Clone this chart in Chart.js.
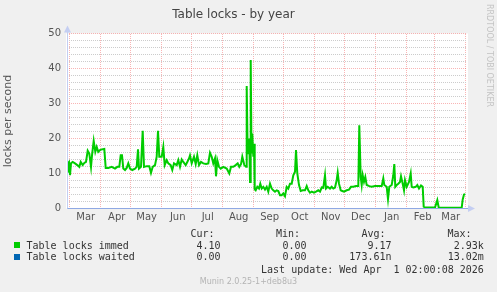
<!DOCTYPE html>
<html>
<head>
<meta charset="utf-8">
<script src="https://cdn.jsdelivr.net/npm/chart.js@4"></script>
<style>
  html, body { margin: 0; padding: 0; background: #f0f0f0; }
  #wrap { position: relative; width: 497px; height: 292px; overflow: hidden; }
  canvas { position: absolute; left: 0; top: 0; }
  .m { position: absolute; font-family: 'DejaVu Sans Mono', monospace; font-size: 10px; line-height: 10px; color: #333; white-space: pre; }
  .sq { position: absolute; width: 6px; height: 6px; }
  .foot { position: absolute; font-family: 'DejaVu Sans', sans-serif; font-size: 8px; line-height: 8px; color: #b4b4b4; white-space: pre; }
  .side { position: absolute; font-family: 'DejaVu Sans', sans-serif; font-size: 8px; line-height: 8px; color: #c4c4c4; white-space: pre; transform-origin: 0 0; transform: rotate(90deg); }
</style>
</head>
<body>
<div id="wrap">
  <canvas id="c" width="497" height="292"></canvas>
</div>
<script>
// ---- data (day offsets from 27 Feb 2025, one pixel per day) ----
const monthLabels = ['Mar','Apr','May','Jun','Jul','Aug','Sep','Oct','Nov','Dec','Jan','Feb','Mar'];
const monthStartDays = [2,33,63,94,124,155,186,216,247,277,308,339,367,398];
const yTickValues = [0,10,20,30,40,50];

const dayOffsets = [0,0.7,2,3,4,5.7,8,10.3,12.3,13.7,15.7,17.3,19,20.7,22.3,24,25,26.7,28.3,29.7,31.3,33,34.7,37.3,38.7,41.3,44.7,48,50.3,52.3,53.7,55,56.3,58,59.7,61.3,63,65.3,68,69.7,71,72,74,75.7,77,79.7,82.3,84,85.7,88,89.7,91,92.3,94.7,96.3,97.7,99.7,101.3,103.7,105.3,107,109.7,111.3,113,114.7,116.3,118.7,120.3,122,123,124.7,127,128.7,130.3,132,134,136.3,139,141.3,143,144.7,146.3,148,149,150.3,152,153.7,156.3,159.7,162.3,164,166.3,168.7,170.7,172.3,174,175.3,177.3,179,179.7,180.5,181.3,182.3,183,183.7,184.5,185.3,186.3,187,187.7,188.7,190.3,192,193.3,194.7,196.3,198,199.7,201.3,203,204.7,206.3,208,209.7,211.3,213,214.7,216.3,218,219.7,221.3,223,224.7,226.3,228,229,230.3,232,233.7,235.7,238,239.7,241.3,243,244.7,247,249,251.3,253,254.7,256.3,258,259,260.7,263,264.7,266.3,268,269.7,270.7,272,273.7,275.3,277,279.7,282,284,286.3,289,291.3,292.3,293.7,294.7,295.7,297,298.3,299.7,302.3,304.7,308,311.3,314.7,316.3,317.3,319.7,321,322.3,324.7,326.3,327.3,328.3,329.7,331.3,333,334,335.3,337,338,339.7,342,343.7,344.7,346.3,348.7,350.3,352,354,355.7,356.7,358,363,368,370.3,371.7,376.3,383,389.7,394.7,395.7,397,398.3];
const immedValues = [10.5,12.9,13.3,9.5,12.9,13.3,12.9,12.4,11.9,13.3,12.4,13.0,13.3,16.5,15.7,11.9,15.2,19.3,16.2,17.6,16.2,16.7,16.9,17.0,11.6,11.6,11.9,11.4,11.9,11.9,15.2,15.2,11.4,11.0,11.6,12.9,11.4,11.0,11.4,11.9,16.9,11.4,11.9,22.2,11.9,12.1,12.1,10.2,11.9,12.4,14.8,22.2,14.8,14.8,17.6,12.4,13.8,12.9,12.4,11.0,12.9,12.4,13.8,11.9,14.0,13.3,12.4,13.3,14.3,15.2,12.9,14.8,12.7,15.2,12.4,13.3,12.9,12.7,12.9,15.9,14.8,12.9,14.3,9.2,13.8,11.9,11.4,11.9,11.4,10.0,11.9,11.9,12.4,12.9,11.9,12.7,14.8,12.4,11.9,35.0,19.5,15.5,20.0,7.6,42.4,15.7,21.4,14.8,18.5,5.5,5.2,6.2,5.7,7.1,5.7,6.2,5.4,6.2,4.8,7.1,5.7,5.2,4.8,5.2,5.0,3.8,3.8,4.3,3.5,6.2,5.7,7.1,7.1,9.5,10.5,16.7,10.0,6.7,5.0,5.2,5.2,6.4,5.2,4.5,4.8,4.5,4.8,5.2,4.8,6.0,5.9,9.5,5.7,6.2,5.7,6.2,5.7,6.0,8.1,10.2,7.1,5.2,5.0,4.8,5.2,5.4,6.2,6.2,6.4,6.4,23.8,9.0,6.7,9.5,7.6,9.0,6.7,6.4,6.2,6.4,6.4,6.4,8.6,6.7,6.2,2.7,6.2,6.7,9.5,12.7,6.2,6.7,7.1,7.6,9.2,7.6,5.2,8.1,6.2,7.6,10.0,6.2,6.0,6.2,6.7,5.7,6.6,6.2,0.5,0.3,0.3,0.3,2.4,0.3,0.2,0.2,0.2,0.2,2.6,4.0,4.1];

const waitedDays = [0, 399];
const waitedValues = [0, 0];

const legendRows = [
  { name: 'Table locks immed',  color: '#00cc00', cur: '4.10', min: '0.00', avg: '9.17',    max: '2.93k' },
  { name: 'Table locks waited', color: '#0066b3', cur: '0.00', min: '0.00', avg: '173.61n', max: '13.02m' }
];
const legendHeaders = ['Cur:', 'Min:', 'Avg:', 'Max:'];
const lastUpdate = 'Last update: Wed Apr  1 02:00:08 2026';
const footerText = 'Munin 2.0.25-1+deb8u3';
const sideText = 'RRDTOOL / TOBI OETIKER';

// ---- chart ----
const toPts = (xs, ys) => xs.map((x, i) => ({ x: x, y: ys[i] }));
const labelDays = monthLabels.map((_, i) => monthStartDays[i] + 16.7);
const minorY = [];
for (let v = 2; v < 50; v += 2) if (v % 10 !== 0) minorY.push(v);

const bgPlugin = {
  id: 'bg',
  beforeDraw(chart) {
    const { ctx, chartArea: a } = chart;
    ctx.save();
    ctx.fillStyle = '#f0f0f0';
    ctx.fillRect(0, 0, chart.width, chart.height);
    ctx.fillStyle = '#ffffff';
    ctx.fillRect(a.left - 1, a.top, a.right - a.left + 2, a.bottom - a.top);
    ctx.restore();
  },
  afterDraw(chart) {
    const { ctx, chartArea: a } = chart;
    ctx.save();
    ctx.strokeStyle = '#c4cef2';
    ctx.lineWidth = 1;
    ctx.beginPath();
    ctx.moveTo(a.left + 0.5, a.bottom);
    ctx.lineTo(a.left + 0.5, a.top - 4);
    ctx.stroke();
    ctx.fillStyle = '#c4cef2';
    ctx.beginPath();
    ctx.moveTo(a.left - 3, a.top - 1);
    ctx.lineTo(a.left + 4, a.top - 1);
    ctx.lineTo(a.left + 0.5, a.top - 8);
    ctx.closePath();
    ctx.fill();
    ctx.beginPath();
    ctx.moveTo(a.right + 1, a.bottom - 3.5);
    ctx.lineTo(a.right + 1, a.bottom + 3.5);
    ctx.lineTo(a.right + 8, a.bottom);
    ctx.closePath();
    ctx.fill();
    ctx.restore();
  }
};

const majorGrid = { color: 'rgba(240,60,60,0.38)', lineWidth: 1, drawTicks: false, borderDash: [1, 1] };
const minorGrid = { color: '#cccccc', lineWidth: 1, drawTicks: false, borderDash: [1, 1] };

new Chart(document.getElementById('c'), {
  type: 'line',
  data: {
    datasets: [
      { label: 'Table locks immed', data: toPts(dayOffsets, immedValues), borderColor: '#00cc00', borderWidth: 2, pointRadius: 0, tension: 0, fill: false, xAxisID: 'x', yAxisID: 'y' },
      { label: 'Table locks waited', data: toPts(waitedDays, waitedValues), borderColor: '#0066b3', borderWidth: 1, pointRadius: 0, tension: 0, fill: false, xAxisID: 'x', yAxisID: 'y' }
    ]
  },
  options: {
    responsive: false,
    devicePixelRatio: 1,
    animation: false,
    events: [],
    layout: { padding: { left: 0, right: 30, top: 0, bottom: 0 } },
    plugins: {
      legend: { display: false },
      tooltip: { enabled: false },
      title: {
        display: true,
        text: 'Table locks - by year',
        color: '#444',
        font: { family: 'DejaVu Sans', size: 12, weight: 'normal', lineHeight: 1.2 },
        padding: { top: 8, bottom: 11.1 }
      }
    },
    scales: {
      x: {
        type: 'linear', position: 'top', min: 0, max: 400,
        afterBuildTicks: s => { s.ticks = monthStartDays.map(v => ({ value: v })); },
        afterFit: s => { s.height = 0; },
        ticks: { display: false },
        grid: majorGrid,
        border: { display: false, dash: [1, 1] }
      },
      xLabels: {
        type: 'linear', position: 'bottom', min: 0, max: 400,
        afterBuildTicks: s => { s.ticks = labelDays.map(v => ({ value: v })); },
        afterFit: s => { s.height = 83.5; },
        ticks: {
          autoSkip: false, maxRotation: 0, padding: 3, color: '#555',
          font: { family: 'DejaVu Sans', size: 10 },
          callback: (v, i) => monthLabels[i]
        },
        grid: { display: false, drawTicks: false },
        border: { display: true, color: '#8fa9e4', width: 1, z: 1 }
      },
      y: {
        type: 'linear', position: 'left', min: 0, max: 50,
        afterBuildTicks: s => { s.ticks = yTickValues.map(v => ({ value: v })); },
        afterFit: s => { s.width = 67; },
        ticks: { padding: 6, color: '#555', font: { family: 'DejaVu Sans', size: 10 }, callback: v => String(v) },
        grid: majorGrid,
        border: { display: false, dash: [1, 1] },
        title: { display: true, text: 'locks per second', color: '#555', font: { family: 'DejaVu Sans', size: 11 }, padding: { top: 2, bottom: 0 } }
      },
      yMinor: {
        type: 'linear', position: 'right', min: 0, max: 50,
        afterBuildTicks: s => { s.ticks = minorY.map(v => ({ value: v })); },
        afterFit: s => { s.width = 0; },
        ticks: { display: false },
        grid: minorGrid,
        border: { display: false, dash: [1, 1] }
      }
    }
  },
  plugins: [bgPlugin]
});

// ---- legend & footer as text ----
const wrap = document.getElementById('wrap');
function addText(cls, text, css) {
  const d = document.createElement('div');
  d.className = cls;
  d.textContent = text;
  Object.assign(d.style, css);
  wrap.appendChild(d);
  return d;
}
const headerRights = [214.5, 300, 385.5, 471.5];
const valueRights = [220.5, 306.5, 391.5, 483.8];
const rowTops = [240.5, 252.1];
legendHeaders.forEach((h, i) => addText('m', h, { top: '228.8px', right: (497 - headerRights[i]) + 'px' }));
legendRows.forEach((r, k) => {
  const sq = document.createElement('div');
  sq.className = 'sq';
  Object.assign(sq.style, { left: '14px', top: (rowTops[k] + 1.8) + 'px', background: r.color });
  wrap.appendChild(sq);
  addText('m', r.name, { top: rowTops[k] + 'px', left: '26.5px' });
  [r.cur, r.min, r.avg, r.max].forEach((v, i) => addText('m', v, { top: rowTops[k] + 'px', right: (497 - valueRights[i]) + 'px' }));
});
addText('m', lastUpdate, { top: '264.5px', right: (497 - 483.8) + 'px' });
addText('foot', footerText, { top: '277.5px', left: '0px', width: '497px', textAlign: 'center' });
addText('side', sideText, { top: '4.3px', left: '492.6px' });
</script>
</body>
</html>
